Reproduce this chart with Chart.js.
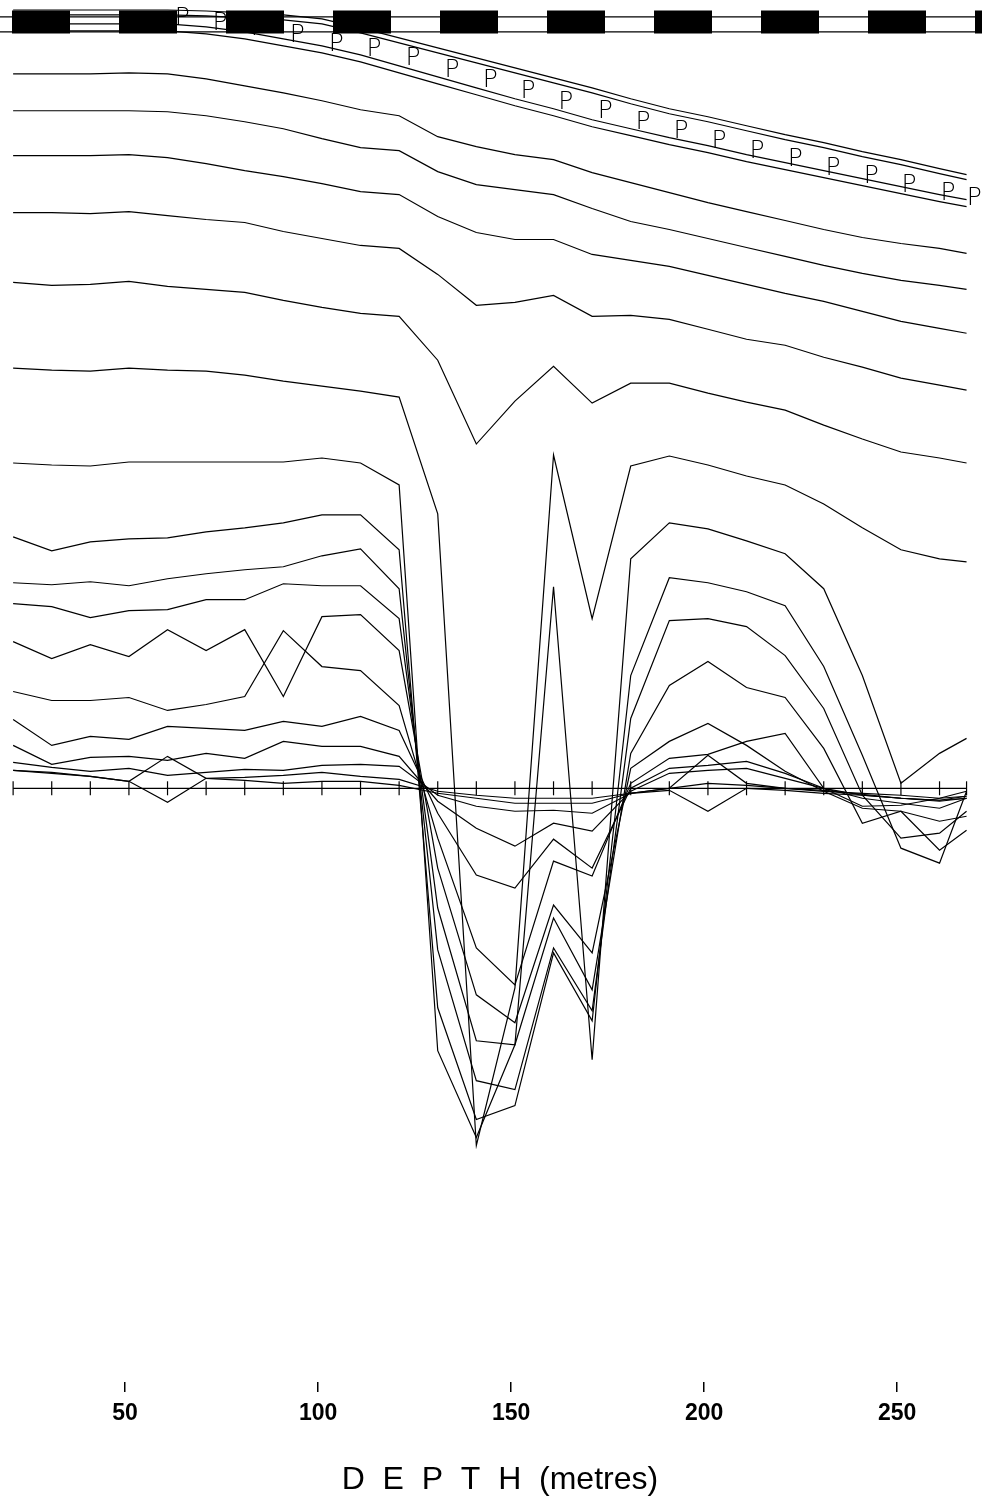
<!DOCTYPE html>
<html>
<head>
<meta charset="utf-8">
<script src="https://cdn.jsdelivr.net/npm/chart.js@4.4.1/dist/chart.umd.min.js"></script>
<style>
  html, body { margin: 0; padding: 0; background: #fff; }
  canvas { display: block; }
</style>
</head>
<body>
<canvas id="depthChart" width="982" height="1508"></canvas>
<script>
// depth of every sample (metres)
const depths = [21, 31, 41, 51, 61, 71, 81, 91, 101, 111, 121, 131, 141, 151, 161, 171, 181, 191, 201, 211, 221, 231, 241, 251, 261, 268];
const depthTicks = [50, 100, 150, 200, 250];

// profiles, top to bottom (arbitrary units, 0 = reference line)
const curveA = [716, 716, 716, 717, 716, 711, 704, 697, 689, 680, 674, 653, 643, 635, 630, 617, 607, 597, 587, 578, 569, 560, 552, 546, 541, 536];
const curveB = [679, 679, 679, 679, 678, 674, 668, 661, 651, 642, 639, 618, 605, 600, 595, 581, 568, 560, 551, 542, 533, 524, 516, 509, 504, 500];
const curveC = [634, 634, 634, 635, 632, 626, 619, 613, 606, 598, 595, 573, 557, 550, 550, 535, 529, 523, 514, 505, 496, 488, 478, 468, 461, 456];
const curveD = [577, 577, 576, 578, 574, 570, 567, 558, 551, 544, 541, 515, 484, 487, 494, 473, 474, 470, 460, 450, 444, 432, 422, 411, 404, 399];
const curveE = [507, 504, 505, 508, 503, 500, 497, 489, 482, 476, 473, 429, 345, 388, 423, 386, 406, 406, 396, 387, 379, 364, 350, 337, 331, 326];
const curveF = [421, 419, 418, 421, 419, 418, 414, 408, 403, 398, 392, 275, -358, -200, 334, 170, 323, 333, 324, 313, 304, 285, 261, 239, 230, 227];
const curveG = [326, 324, 323, 327, 327, 327, 327, 327, 331, 326, 304, -263, -350, -257, 202, -272, 230, 266, 260, 248, 235, 200, 113, 5, 35, 50];
const curveH = [252, 238, 247, 250, 251, 257, 261, 266, 274, 274, 239, -220, -332, -318, -165, -233, 113, 211, 206, 197, 183, 122, 33, -60, -75, -3];
const curveI = [206, 204, 207, 203, 210, 215, 219, 222, 233, 240, 200, -162, -293, -302, -160, -223, 70, 168, 170, 162, 133, 80, -7, -50, -45, -23];
const curveJ = [185, 182, 171, 178, 179, 189, 189, 205, 203, 203, 170, -120, -253, -257, -130, -202, 35, 103, 127, 101, 91, 40, -35, -23, -62, -42];
const curveK = [147, 130, 144, 132, 159, 138, 159, 92, 172, 174, 138, -80, -207, -235, -117, -165, 20, 47, 65, 43, 17, -3, -20, -23, -33, -28];
const curveL = [97, 88, 88, 91, 78, 84, 92, 158, 122, 118, 83, -50, -160, -197, -73, -88, 5, 30, 34, 47, 55, 0, -18, -17, -10, -3];
const curveM = [69, 43, 52, 49, 62, 60, 58, 67, 62, 72, 58, -25, -87, -100, -51, -80, 0, 20, 23, 27, 15, 0, -10, -15, -20, -10];
const curveN = [43, 24, 31, 32, 28, 35, 30, 47, 42, 42, 32, -13, -40, -58, -35, -43, -3, 15, 18, 20, 10, 0, -7, -10, -12, -8];
const curveO = [26, 21, 17, 20, 13, 16, 19, 18, 23, 24, 22, -7, -18, -23, -22, -25, -5, 0, 33, 5, 0, -2, -6, -10, -12, -10];
const curveP = [18, 15, 12, 7, 32, 10, 8, 5, 7, 7, 3, -5, -10, -15, -15, -15, -5, -2, -23, 0, -2, -5, -7, -10, -13, -10];
const curveQ = [18, 16, 12, 7, -14, 10, 11, 13, 16, 12, 9, -3, -7, -10, -10, -10, -5, 0, 5, 3, 0, -3, -5, -7, -10, -8];

// band around the P marks
const envUpper1 = [780, 780, 780, 780, 780, 779, 777, 775, 771, 762, 752, 742, 732, 722, 712, 702, 691, 681, 673, 664, 655, 647, 638, 630, 621, 615];
const envUpper2 = [775, 775, 775, 775, 775, 774, 772, 770, 766, 757, 747, 737, 727, 717, 707, 697, 686, 676, 668, 659, 650, 642, 633, 625, 616, 610];
const envLower1 = [766, 766, 766, 766, 766, 763, 758, 751, 744, 735, 724, 713, 702, 691, 681, 670, 661, 652, 644, 635, 627, 619, 611, 603, 595, 590];
const envLower2 = [759, 759, 759, 759, 759, 756, 751, 744, 737, 728, 717, 706, 695, 684, 674, 663, 654, 645, 637, 628, 620, 612, 604, 596, 588, 583];

// P marks
const pDepths = [64.8, 74.6, 84.5, 94.6, 104.7, 114.5, 124.6, 134.7, 144.6, 154.4, 164.2, 174.4, 184.2, 194.0, 203.9, 213.7, 223.6, 233.4, 243.3, 253.1, 263.2, 270.0];
const pValues = [774, 769, 764, 757, 748, 743, 734, 722, 712, 701, 690, 681, 670, 661, 651, 641, 633, 624, 616, 607, 599, 594];

// heavy dashed bar along the top
const barDepths = [17.6, 272];
const barLevel = 768;
const barThinTop = 773;
const barThinLow = 758;

const X_MIN = 17.6, X_MAX = 272;
const Y_MIN = -595, Y_MAX = 790;

const pts = (xs, ys) => ys.map((v, i) => ({ x: xs[i], y: v }));
const flat = (xs, v) => xs.map(x => ({ x, y: v }));

const thin = { borderColor: '#000', borderWidth: 1.2, pointRadius: 0, showLine: true, fill: false };

const curves = [curveA, curveB, curveC, curveD, curveE, curveF, curveG, curveH, curveI,
  curveJ, curveK, curveL, curveM, curveN, curveO, curveP, curveQ];
const envelopes = [envUpper1, envUpper2, envLower1, envLower2];

const datasets = [];
curves.forEach(c => datasets.push({ ...thin, data: pts(depths, c) }));
envelopes.forEach(c => datasets.push({ ...thin, data: pts(depths, c) }));

// zero line with small vertical tick at every sample
datasets.push({
  ...thin,
  data: flat(depths, 0),
  pointStyle: 'line',
  pointRotation: 90,
  pointRadius: 7,
  pointBorderWidth: 1.2,
  pointBorderColor: '#000'
});

// top bar
datasets.push({ ...thin, data: flat(barDepths, barThinTop) });
datasets.push({ ...thin, data: flat(barDepths, barThinLow) });
datasets.push({
  ...thin,
  data: flat(barDepths, barLevel),
  borderWidth: 23,
  borderDash: [58, 49],
  borderDashOffset: 95,
  borderCapStyle: 'butt'
});

// P marks (drawn as text by plugin below)
const pIndex = datasets.length;
datasets.push({ data: pts(pDepths, pValues), showLine: false, pointRadius: 0 });

const pLetters = {
  id: 'pLetters',
  afterDatasetsDraw(chart) {
    const ctx = chart.ctx;
    const meta = chart.getDatasetMeta(pIndex);
    ctx.save();
    ctx.fillStyle = '#000';
    ctx.font = '200 25px "DejaVu Sans", sans-serif';
    ctx.textAlign = 'center';
    ctx.textBaseline = 'alphabetic';
    meta.data.forEach(pt => ctx.fillText('P', pt.x, pt.y + 9));
    ctx.restore();
  }
};

new Chart(document.getElementById('depthChart'), {
  type: 'scatter',
  data: { datasets },
  options: {
    responsive: false,
    animation: false,
    layout: { autoPadding: false, padding: { left: 0, right: 0, top: 0, bottom: 9 } },
    plugins: { legend: { display: false }, tooltip: { enabled: false } },
    elements: { line: { tension: 0 } },
    scales: {
      x: {
        type: 'linear',
        min: X_MIN,
        max: X_MAX,
        afterBuildTicks: s => { s.ticks = depthTicks.map(v => ({ value: v })); },
        grid: { drawOnChartArea: false, drawTicks: true, tickLength: 10, color: '#000', lineWidth: 1.5 },
        border: { display: false },
        ticks: {
          color: '#000',
          padding: 8,
          maxRotation: 0,
          autoSkip: false,
          font: { family: '"Liberation Sans", Arial, sans-serif', size: 23, weight: 'bold' }
        },
        title: {
          display: true,
          text: '  D  E  P  T  H  (metres)',
          color: '#000',
          font: { family: '"Liberation Sans", Arial, sans-serif', size: 32 },
          padding: { top: 25, bottom: 0 }
        }
      },
      y: { display: false, min: Y_MIN, max: Y_MAX }
    }
  },
  plugins: [pLetters]
});
</script>
</body>
</html>
